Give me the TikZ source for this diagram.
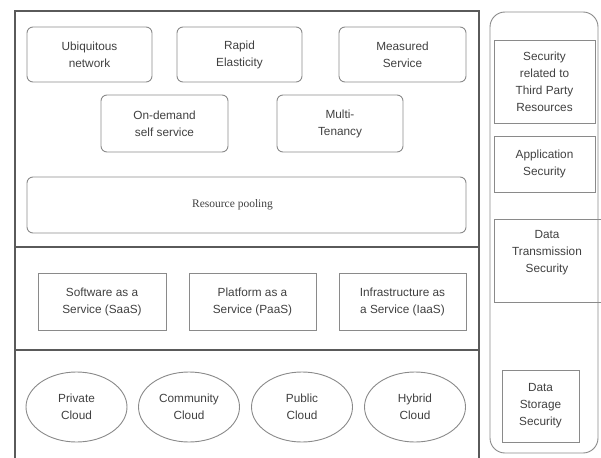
\documentclass[tikz,border=0pt]{standalone}
\usepackage{fontspec}
\setmainfont{Liberation Sans}
\newfontfamily\seriffont{Liberation Serif}
\usetikzlibrary{shapes.geometric}
\definecolor{boxline}{HTML}{8A8A8A}
\definecolor{frameline}{HTML}{5A5A5A}
\definecolor{txt}{HTML}{404040}
\begin{document}
\begin{tikzpicture}[x=1pt,y=-1pt,
  every node/.style={font=\fontsize{11.8}{17}\selectfont, text=txt, align=center, inner sep=0pt},
  rbox/.style={draw=boxline, line width=0.9pt, rounded corners=6pt},
  sbox/.style={draw=boxline, line width=0.9pt},
  ebox/.style={draw=boxline, line width=0.9pt, ellipse},
  frame/.style={draw=frameline, line width=2.6pt},
  panel/.style={draw=boxline, line width=0.9pt, rounded corners=15pt}]
\useasboundingbox (0,0) rectangle (601,457);
% main frame
\draw[frame] (15,458) -- (15,11) -- (479,11) -- (479,458);
\draw[frame] (15,247) -- (479,247);
\draw[frame] (15,350) -- (479,350);
% right panel
\draw[panel] (490,12) rectangle (598,453);
% characteristics
\node[rbox, minimum width=125pt, minimum height=55pt] (ubi) at (89.5,54.5) {Ubiquitous\\network};
\node[rbox, minimum width=125pt, minimum height=55pt] (rap) at (239.5,54.5) {Rapid\\Elasticity};
\node[rbox, minimum width=127pt, minimum height=55pt] (mea) at (402.5,54.5) {Measured\\Service};
\node[rbox, minimum width=127pt, minimum height=57pt] (ond) at (164.5,123.5) {On-demand\\self service};
\node[rbox, minimum width=126pt, minimum height=57pt] (mul) at (340,123.5) {Multi-\\Tenancy};
\node[rbox, minimum width=439pt, minimum height=56pt,
  label={[font=\seriffont\fontsize{11.5}{13}\selectfont, text=txt, xshift=-14pt]center:Resource pooling}] (res) at (246.5,205) {};
% service models
\node[sbox, minimum width=128pt, minimum height=57pt] (saas) at (102,301.5) {Software as a\\Service (SaaS)};
\node[sbox, minimum width=127pt, minimum height=57pt] (paas) at (252.5,301.5) {Platform as a\\Service (PaaS)};
\node[sbox, minimum width=127pt, minimum height=57pt] (iaas) at (402.5,301.5) {Infrastructure as\\a Service (IaaS)};
% deployment models
\node[ebox, minimum width=101pt, minimum height=70pt] (pri) at (76.5,407) {Private\\Cloud};
\node[ebox, minimum width=101pt, minimum height=70pt] (com) at (189,407) {Community\\Cloud};
\node[ebox, minimum width=101pt, minimum height=70pt] (pub) at (302,407) {Public\\Cloud};
\node[ebox, minimum width=101pt, minimum height=70pt] (hyb) at (415,407) {Hybrid\\Cloud};
% security
\node[sbox, minimum width=101pt, minimum height=83pt] (thp) at (544.5,81.5) {Security\\related to\\Third Party\\Resources};
\node[sbox, minimum width=101pt, minimum height=56pt] (app) at (544.5,164) {Application\\Security};
\node[sbox, minimum width=110pt, minimum height=83pt,
  label={[yshift=8pt, xshift=-2pt]center:Data\\Transmission\\Security}] (dts) at (549,260.5) {};
\node[sbox, minimum width=77pt, minimum height=72pt] (dss) at (540.5,406) {Data\\Storage\\Security};
\end{tikzpicture}
\end{document}
